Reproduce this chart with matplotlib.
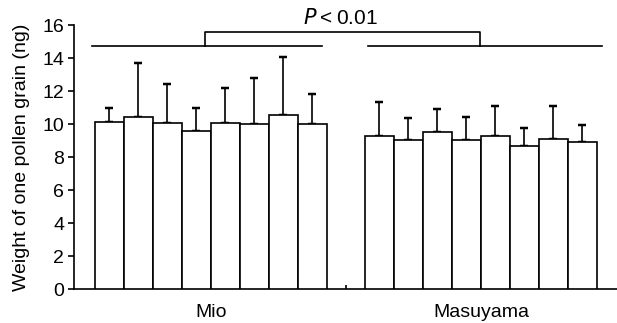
import matplotlib
matplotlib.use("Agg")
import matplotlib.pyplot as plt
import numpy as np

plt.rcParams["font.family"] = ["Liberation Sans", "DejaVu Sans"]

groups = ["Mio", "Masuyama"]
mio_mean = [10.12, 10.42, 10.04, 9.60, 10.06, 9.98, 10.55, 10.00]
mio_sd = [0.85, 3.28, 2.38, 1.35, 2.10, 2.82, 3.51, 1.82]
mas_mean = [9.29, 9.03, 9.52, 9.01, 9.25, 8.69, 9.11, 8.89]
mas_sd = [2.04, 1.32, 1.41, 1.41, 1.84, 1.09, 1.98, 1.05]
p_text = "$P$\u2009<\u20090.01"

fig = plt.figure(figsize=(6.17, 3.23), dpi=100)
ax = fig.add_axes([0.12, 0.105, 0.88, 0.8175])

x_mio = np.arange(8)
x_mas = np.arange(8) + 9.31
lw = 1.2
for xs, m, s in ((x_mio, mio_mean, mio_sd), (x_mas, mas_mean, mas_sd)):
    ax.bar(xs, m, width=1.0, color="white", edgecolor="black", linewidth=lw, zorder=3)
    ax.errorbar(xs, m, yerr=[np.zeros(len(s)), s], fmt="none", ecolor="black",
                elinewidth=lw, capsize=3.2, capthick=lw * 1.5, zorder=2)

ax.set_xlim(-1.22, 17.5)
ax.set_ylim(0, 16)
ax.set_yticks(range(0, 17, 2))
ax.tick_params(axis="y", direction="out", length=4, width=lw, labelsize=14, pad=3)
ax.spines["top"].set_visible(False)
ax.spines["right"].set_visible(False)
for sp in ("left", "bottom"):
    ax.spines[sp].set_linewidth(lw)

# separator tick between groups, category labels as minor ticks
ax.set_xticks([8.15])
ax.set_xticklabels([""])
ax.tick_params(axis="x", which="major", direction="in", length=3, width=lw)
ax.set_xticks([x_mio.mean(), x_mas.mean()], minor=True)
ax.set_xticklabels(groups, minor=True)
ax.tick_params(axis="x", which="minor", length=0, labelsize=14, pad=11)

ax.set_ylabel("Weight of one pollen grain (ng)", fontsize=14, labelpad=9)

# significance bracket
yl, yh = 14.71, 15.6
ax.plot([-0.6, 7.33], [yl, yl], color="black", lw=lw, clip_on=False)
ax.plot([8.91, 16.98], [yl, yl], color="black", lw=lw, clip_on=False)
xa, xb = 3.29, 12.78
ax.plot([xa, xa, xb, xb], [yl, yh, yh, yl], color="black", lw=lw, clip_on=False)
ax.text(7.98, 16.05, p_text, ha="center", va="baseline", fontsize=15, clip_on=False)

fig.savefig("out.png", dpi=100)
